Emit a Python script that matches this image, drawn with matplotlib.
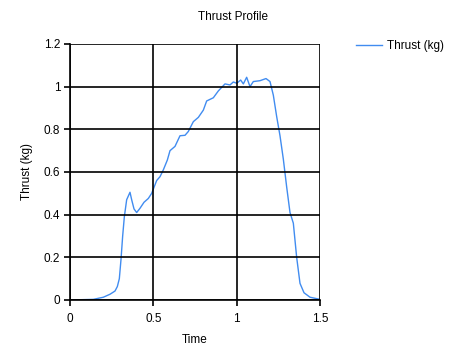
import matplotlib
matplotlib.use("Agg")
import matplotlib.pyplot as plt

# --- DATA ---
time_s = [0.0, 0.14, 0.20, 0.24, 0.27, 0.284, 0.296, 0.306, 0.316, 0.326, 0.34,
          0.36, 0.37, 0.384, 0.40, 0.42, 0.444, 0.47, 0.49, 0.50, 0.52, 0.54,
          0.56, 0.584, 0.60, 0.63, 0.66, 0.69, 0.71, 0.74, 0.77, 0.80, 0.82,
          0.86, 0.89, 0.93, 0.96, 0.98, 1.0, 1.024, 1.04, 1.06, 1.08, 1.10,
          1.14, 1.176, 1.20, 1.22, 1.24, 1.26, 1.28, 1.30, 1.32, 1.34, 1.36,
          1.38, 1.404, 1.44, 1.5]
thrust_kg = [0.0, 0.003, 0.013, 0.027, 0.042, 0.063, 0.10, 0.19, 0.30, 0.39, 0.47,
             0.505, 0.47, 0.427, 0.41, 0.43, 0.458, 0.476, 0.50, 0.52, 0.56, 0.578,
             0.61, 0.656, 0.70, 0.72, 0.77, 0.772, 0.79, 0.836, 0.856, 0.89, 0.933,
             0.948, 0.98, 1.013, 1.008, 1.022, 1.016, 1.031, 1.013, 1.044, 1.0, 1.024,
             1.028, 1.038, 1.024, 0.96, 0.86, 0.77, 0.66, 0.53, 0.41, 0.36, 0.20,
             0.078, 0.034, 0.013, 0.003]
x_ticks = [0, 0.5, 1, 1.5]
x_tick_labels = ["0", "0.5", "1", "1.5"]
y_ticks = [0, 0.2, 0.4, 0.6, 0.8, 1.0, 1.2]
y_tick_labels = ["0", "0.2", "0.4", "0.6", "0.8", "1", "1.2"]

plt.rcParams['font.family'] = ['Liberation Sans', 'DejaVu Sans']
plt.rcParams['font.size'] = 8.5

fig = plt.figure(figsize=(4.67, 3.57), dpi=100)
ax = fig.add_axes([70 / 467, 57 / 357, 250 / 467, 256 / 357])

ax.plot(time_s, thrust_kg, color='#418CF0', linewidth=1.0, label='Thrust (kg)')

ax.set_xlim(0, 1.5)
ax.set_ylim(0, 1.2)
ax.set_xticks(x_ticks)
ax.set_xticklabels(x_tick_labels)
ax.set_yticks(y_ticks)
ax.set_yticklabels(y_tick_labels)
ax.grid(True, color='black', linewidth=1.2)
ax.set_axisbelow(False)
for side in ['top', 'right']:
    ax.spines[side].set_visible(False)
for side in ['left', 'bottom']:
    ax.spines[side].set_linewidth(1.2)
ax.tick_params(direction='out', length=4, width=1.2, colors='black')
ax.tick_params(axis='x', pad=5)
ax.tick_params(axis='y', pad=3)

ax.set_xlabel('Time', labelpad=7)
ax.set_ylabel('Thrust (kg)', labelpad=8)
fig.text(0.5, 1 - 17 / 357, 'Thrust Profile', ha='center', va='center')

fig.legend(loc='upper left', bbox_to_anchor=(356 / 467, 1 - 40 / 357),
           frameon=False, handlelength=2.2, handletextpad=0.4,
           borderaxespad=0, borderpad=0)

fig.savefig('out.png', dpi=100)
